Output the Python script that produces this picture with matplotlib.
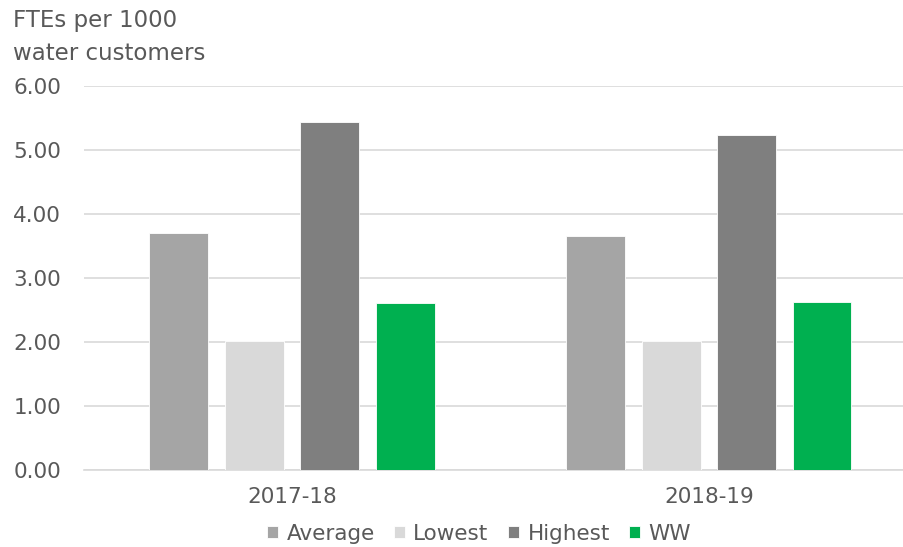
import matplotlib.pyplot as plt
import numpy as np

plt.rcParams['font.family'] = ['DejaVu Sans']

years = ["2017-18", "2018-19"]
series = ["Average", "Lowest", "Highest", "WW"]
average = [3.71, 3.65]
lowest = [2.01, 2.01]
highest = [5.44, 5.23]
ww = [2.61, 2.63]
colors = ["#A5A5A5", "#D9D9D9", "#7F7F7F", "#00B050"]
text_col = "#595959"

fig = plt.figure(figsize=(9.04, 5.47), dpi=100)
ax = fig.add_axes([83.5 / 904, 77 / 547, (904 - 83.5) / 904, 384 / 547])

x = np.arange(len(years))
step = 0.181
width = 0.141
for i, (name, vals) in enumerate(zip(series, [average, lowest, highest, ww])):
    ax.bar(x + (i - 1.5) * step, vals, width, color=colors[i], label=name,
           zorder=3, edgecolor="white", linewidth=0.6)

ax.set_ylim(0, 6)
ax.set_xlim(-0.5, 1.468)
ax.set_yticks(np.arange(0, 7, 1))
ax.set_yticklabels([f"{v:.2f}" for v in range(7)])
ax.set_xticks(x)
ax.set_xticklabels(years)
ax.grid(axis="y", color="#D9D9D9", linewidth=1.2, zorder=0)
for s in ["top", "right", "left"]:
    ax.spines[s].set_visible(False)
ax.spines["bottom"].set_color("#D9D9D9")
ax.spines["bottom"].set_linewidth(1.2)
ax.tick_params(axis="both", length=0, labelsize=15.5, colors=text_col)
ax.tick_params(axis="y", pad=16)
ax.tick_params(axis="x", pad=12)

fig.text(13 / 904, 1 - 9 / 547, "FTEs per 1000\nwater customers", ha="left", va="top",
         fontsize=16.5, color=text_col, linespacing=1.55)

fig.legend(loc="center", bbox_to_anchor=(479 / 904, 1 - 534 / 547), ncol=4, frameon=False,
           fontsize=15.5, handlelength=0.5, handleheight=0.5, handletextpad=0.4,
           columnspacing=0.9, labelcolor=text_col)

fig.savefig("out.png", dpi=100)
